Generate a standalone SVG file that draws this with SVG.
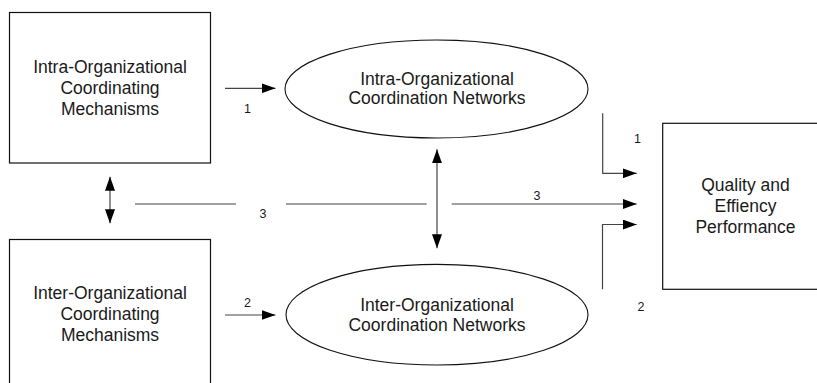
<svg xmlns="http://www.w3.org/2000/svg" width="817" height="383" viewBox="0 0 817 383">
  <style>
    .box { fill: #fff; stroke: #111; stroke-width: 1.2; }
    .oval { fill: #fff; stroke: #111; stroke-width: 1.1; }
    .label { font-family: "Liberation Sans", Arial, sans-serif; font-size: 17.5px; fill: #1a1a1a; text-anchor: middle; }
    .num { font-family: "Liberation Sans", Arial, sans-serif; font-size: 12.5px; fill: #1a1a1a; text-anchor: middle; }
    .wire { fill: none; stroke: #444; stroke-width: 1.2; }
    .arrow { marker-end: url(#head); }
    .both { marker-start: url(#tail); marker-end: url(#head); }
  </style>
  <defs>
    <marker id="head" viewBox="0 0 14 10" refX="14" refY="5" markerWidth="14" markerHeight="10" markerUnits="userSpaceOnUse" orient="auto">
      <path d="M0,0 L14,5 L0,10 Z" fill="#000"/>
    </marker>
    <marker id="tail" viewBox="0 0 14 10" refX="0" refY="5" markerWidth="14" markerHeight="10" markerUnits="userSpaceOnUse" orient="auto">
      <path d="M14,0 L0,5 L14,10 Z" fill="#000"/>
    </marker>
  </defs>

  <rect width="817" height="383" fill="#fff"/>

  <g id="intra-mechanisms">
    <rect class="box" x="9.5" y="12.5" width="201" height="150.5"/>
    <text class="label" x="110" y="72.5">Intra-Organizational</text>
    <text class="label" x="110" y="93.5">Coordinating</text>
    <text class="label" x="110" y="114.5">Mechanisms</text>
  </g>

  <g id="inter-mechanisms">
    <rect class="box" x="9.5" y="239.5" width="201" height="160"/>
    <text class="label" x="110" y="298.5">Inter-Organizational</text>
    <text class="label" x="110" y="319.5">Coordinating</text>
    <text class="label" x="110" y="340.5">Mechanisms</text>
  </g>

  <g id="intra-networks">
    <ellipse class="oval" cx="436.5" cy="89" rx="151.5" ry="49"/>
    <text class="label" x="437" y="85">Intra-Organizational</text>
    <text class="label" x="437" y="104">Coordination Networks</text>
  </g>

  <g id="inter-networks">
    <ellipse class="oval" cx="437" cy="314.7" rx="151" ry="50.3"/>
    <text class="label" x="437" y="311">Inter-Organizational</text>
    <text class="label" x="437" y="331">Coordination Networks</text>
  </g>

  <g id="performance">
    <rect class="box" x="662.7" y="123.3" width="166" height="166"/>
    <text class="label" x="745.5" y="190.5">Quality and</text>
    <text class="label" x="745.5" y="211.5">Effiency</text>
    <text class="label" x="745.5" y="232.5">Performance</text>
  </g>

  <g id="connectors">
    <!-- path 1: intra mechanisms to intra networks to performance -->
    <line class="wire arrow" x1="225" y1="88.3" x2="275.5" y2="88.3"/>
    <text class="num" x="247.5" y="113">1</text>
    <polyline class="wire arrow" points="602.7,113.3 602.7,173.3 636.7,173.3"/>
    <text class="num" x="637.5" y="142.5">1</text>

    <!-- path 2: inter mechanisms to inter networks to performance -->
    <line class="wire arrow" x1="225" y1="315" x2="275.5" y2="315"/>
    <text class="num" x="247.5" y="306.5">2</text>
    <polyline class="wire arrow" points="602.5,289.3 602.5,224.5 636.7,224.5"/>
    <text class="num" x="641" y="310.5">2</text>

    <!-- path 3: joint effect straight to performance -->
    <line class="wire" x1="135" y1="204" x2="236" y2="204"/>
    <text class="num" x="263" y="218">3</text>
    <line class="wire" x1="286" y1="204" x2="426.7" y2="204"/>
    <line class="wire arrow" x1="451.7" y1="204" x2="636.7" y2="204"/>
    <text class="num" x="537" y="200">3</text>

    <!-- two-way links between mechanisms and between networks -->
    <line class="wire both" x1="110" y1="176.7" x2="110" y2="223.3"/>
    <line class="wire both" x1="437" y1="149.3" x2="437" y2="248.3"/>
  </g>
</svg>
